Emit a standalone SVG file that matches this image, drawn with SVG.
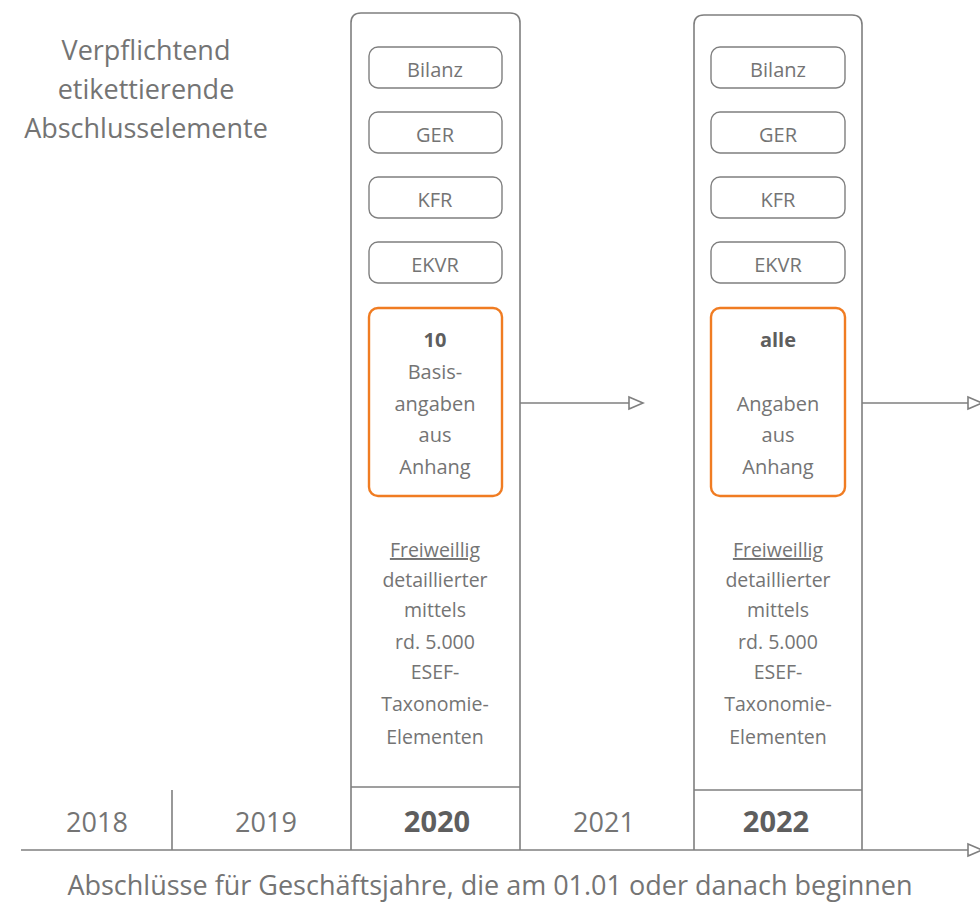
<svg xmlns="http://www.w3.org/2000/svg" width="980" height="910" viewBox="0 0 980 910">
<style>
text{font-family:"Open Sans","Noto Sans","Liberation Sans",sans-serif;fill:#747474;text-anchor:middle}
.col{fill:none;stroke:#7f7f7f;stroke-width:1.6}
.box{fill:#fff;stroke:#7f7f7f;stroke-width:1.4}
.obox{fill:#fff;stroke:#f07c22;stroke-width:2.4}
.ln{stroke:#7f7f7f;stroke-width:1.6;fill:none}
.t16{font-size:19.5px}
.t17{font-size:20px}
.big{font-size:27px}
.yr{font-size:27px}
.yb{font-size:29px;font-weight:bold;fill:#5e5e5e}
.b{font-weight:bold;fill:#5e5e5e}
</style>
<defs>
<marker id="arr" markerWidth="18" markerHeight="16" refX="16" refY="8" orient="auto" markerUnits="userSpaceOnUse">
<path d="M2,2 L16,8 L2,14 Z" fill="#fff" stroke="#7f7f7f" stroke-width="1.6"/>
</marker>
</defs>

<g id="label-left">
<text class="big" x="146" y="60">Verpflichtend</text>
<text class="big" x="146" y="99">etikettierende</text>
<text class="big" x="146" y="138">Abschlusselemente</text>
</g>

<g id="connectors">
<line class="ln" x1="520" y1="403" x2="643" y2="403" marker-end="url(#arr)"/>
<line class="ln" x1="862" y1="403" x2="982" y2="403" marker-end="url(#arr)"/>
<line class="ln" x1="21" y1="850" x2="982" y2="850" marker-end="url(#arr)"/>
<line class="ln" x1="172" y1="790" x2="172" y2="850"/>
</g>

<g id="col-2020">
<path class="col" d="M351,850 V23 Q351,13 361,13 H510 Q520,13 520,23 V850"/>
<line class="ln" x1="351" y1="787" x2="520" y2="787"/>
</g>
<g id="col-2022">
<path class="col" d="M694,850 V25 Q694,15 704,15 H852 Q862,15 862,25 V850"/>
<line class="ln" x1="694" y1="790" x2="862" y2="790"/>
</g>

<g id="n2020-bilanz"><rect class="box" x="369" y="47" width="133" height="41" rx="9"/><text class="t17" x="435" y="77">Bilanz</text></g>
<g id="n2020-ger"><rect class="box" x="369" y="112" width="133" height="41" rx="9"/><text class="t17" x="435" y="142">GER</text></g>
<g id="n2020-kfr"><rect class="box" x="369" y="177" width="133" height="41" rx="9"/><text class="t17" x="435" y="207">KFR</text></g>
<g id="n2020-ekvr"><rect class="box" x="369" y="242" width="133" height="41" rx="9"/><text class="t17" x="435" y="272">EKVR</text></g>
<g id="n2020-anhang"><rect class="obox" x="369" y="308" width="133" height="188" rx="9"/>
<text class="t17 b" x="435" y="347">10</text>
<text class="t17" x="435" y="379">Basis-</text>
<text class="t17" x="435" y="411">angaben</text>
<text class="t17" x="435" y="442">aus</text>
<text class="t17" x="435" y="474">Anhang</text>
</g>
<g id="n2020-frei">
<text class="t16" x="435" y="557" text-decoration="underline">Freiweillig</text>
<text class="t16" x="435" y="587">detaillierter</text>
<text class="t16" x="435" y="617">mittels</text>
<text class="t16" x="435" y="649">rd. 5.000</text>
<text class="t16" x="435" y="679">ESEF-</text>
<text class="t16" x="435" y="711">Taxonomie-</text>
<text class="t16" x="435" y="744">Elementen</text>
</g>

<g id="n2022-bilanz"><rect class="box" x="711" y="47" width="134" height="41" rx="9"/><text class="t17" x="778" y="77">Bilanz</text></g>
<g id="n2022-ger"><rect class="box" x="711" y="112" width="134" height="41" rx="9"/><text class="t17" x="778" y="142">GER</text></g>
<g id="n2022-kfr"><rect class="box" x="711" y="177" width="134" height="41" rx="9"/><text class="t17" x="778" y="207">KFR</text></g>
<g id="n2022-ekvr"><rect class="box" x="711" y="242" width="134" height="41" rx="9"/><text class="t17" x="778" y="272">EKVR</text></g>
<g id="n2022-anhang"><rect class="obox" x="711" y="308" width="134" height="188" rx="9"/>
<text class="t17 b" x="778" y="347">alle</text>
<text class="t17" x="778" y="411">Angaben</text>
<text class="t17" x="778" y="442">aus</text>
<text class="t17" x="778" y="474">Anhang</text>
</g>
<g id="n2022-frei">
<text class="t16" x="778" y="557" text-decoration="underline">Freiweillig</text>
<text class="t16" x="778" y="587">detaillierter</text>
<text class="t16" x="778" y="617">mittels</text>
<text class="t16" x="778" y="649">rd. 5.000</text>
<text class="t16" x="778" y="679">ESEF-</text>
<text class="t16" x="778" y="711">Taxonomie-</text>
<text class="t16" x="778" y="744">Elementen</text>
</g>

<g id="years">
<text class="yr" x="97" y="832">2018</text>
<text class="yr" x="266" y="832">2019</text>
<text class="yb" x="437" y="832">2020</text>
<text class="yr" x="604" y="832">2021</text>
<text class="yb" x="776" y="832">2022</text>
</g>

<g id="caption">
<text class="big" x="490" y="895">Abschlüsse für Geschäftsjahre, die am 01.01 oder danach beginnen</text>
</g>
</svg>
